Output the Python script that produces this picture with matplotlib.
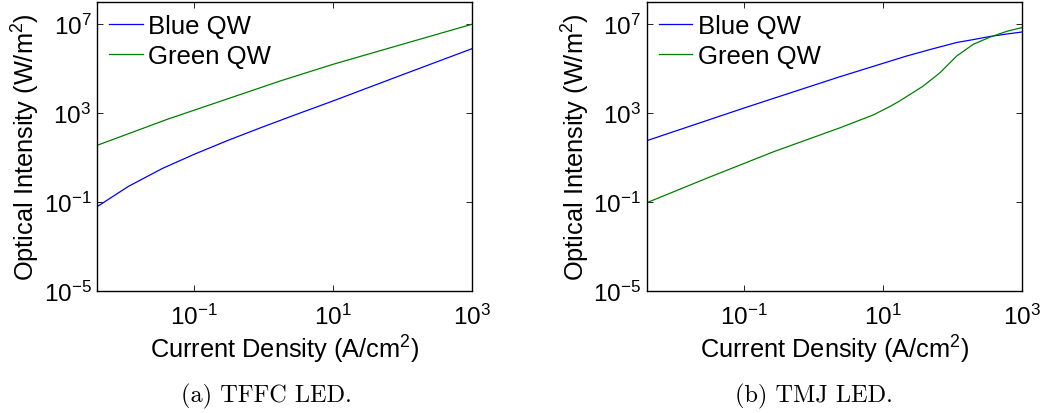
import matplotlib
matplotlib.use("Agg")
import matplotlib.pyplot as plt
from matplotlib.ticker import NullLocator, FixedLocator

# ---- data ----
# (a) TFFC LED
tffc_blue_j = [0.00398, 0.0112, 0.0347, 0.102, 0.309, 0.933, 2.82, 10, 100, 1000]
tffc_blue_i = [0.0617, 0.501, 3.24, 14.5, 60.3, 229, 832, 3550, 53700, 794000]
tffc_green_j = [0.00398, 0.0407, 0.759, 1.74, 10, 100, 1000]
tffc_green_i = [35.5, 525, 11700, 28200, 158000, 1.26e6, 1.0e7]

# (b) TMJ LED
tmj_blue_j = [0.00398, 0.1, 2.40, 21.9, 50.1, 115, 200, 347, 603, 1000]
tmj_blue_i = [57.5, 1700, 43600, 372000, 760000, 1.51e6, 2.04e6, 2.82e6, 3.63e6, 4.47e6]
tmj_green_j = [0.00398, 0.0295, 0.269, 2.45, 7.24, 12.6, 17.4, 38.0, 66.1,
               115, 200, 347, 603, 1000]
tmj_green_i = [0.0933, 1.20, 18.6, 224, 832, 2000, 3550, 16600, 66100,
               372000, 1.26e6, 2.63e6, 4.79e6, 7.08e6]

series_labels = ["Blue QW", "Green QW"]
captions = ["(a) TFFC LED.", "(b) TMJ LED."]
x_ticks = [1e-1, 1e1, 1e3]
y_ticks = [1e-5, 1e-1, 1e3, 1e7]
x_label = "Current Density (A/cm$^2$)"
y_label = "Optical Intensity (W/m$^2$)"

# ---- style ----
plt.rcParams["font.family"] = ["Liberation Sans", "DejaVu Sans"]
plt.rcParams["mathtext.default"] = "regular"
plt.rcParams["mathtext.fontset"] = "custom"
plt.rcParams["mathtext.rm"] = "Liberation Sans"
plt.rcParams["mathtext.it"] = "Liberation Sans"

W, H = 1044, 414
fig = plt.figure(figsize=(W / 100, H / 100), dpi=100)

blue = (0, 0, 1)
green = (0, 0.5, 0)

panels = [
    (97, 472, (tffc_blue_j, tffc_blue_i), (tffc_green_j, tffc_green_i), captions[0], 266),
    (646.7, 1022, (tmj_blue_j, tmj_blue_i), (tmj_green_j, tmj_green_i), captions[1], 814),
]
top_px, bot_px = 3, 292

for left, right, b, g, cap, cap_x in panels:
    ax = fig.add_axes([left / W, 1 - bot_px / H, (right - left) / W, (bot_px - top_px) / H])
    ax.plot(b[0], b[1], color=blue, lw=0.9, label=series_labels[0])
    ax.plot(g[0], g[1], color=green, lw=0.9, label=series_labels[1])
    ax.set_xscale("log")
    ax.set_yscale("log")
    ax.set_xlim(10 ** -2.4, 1e3)
    ax.set_ylim(1e-5, 1e8)
    ax.xaxis.set_major_locator(FixedLocator(x_ticks))
    ax.yaxis.set_major_locator(FixedLocator(y_ticks))
    ax.xaxis.set_minor_locator(NullLocator())
    ax.yaxis.set_minor_locator(NullLocator())
    ax.tick_params(which="major", direction="in", length=4, width=0.6,
                   top=True, right=True, labelsize=17.5, colors="black")
    ax.tick_params(axis="x", pad=9)
    ax.tick_params(axis="y", pad=4)
    for s in ax.spines.values():
        s.set_linewidth(1.0)
        s.set_color("black")
    ax.set_xlabel(x_label, fontsize=18.3, labelpad=3)
    ax.set_ylabel(y_label, fontsize=18.3, labelpad=1)
    ax.legend(loc="upper left", bbox_to_anchor=(0.033, 0.96), frameon=False,
              fontsize=18.5, handlelength=1.3, handletextpad=0.2,
              borderaxespad=0, borderpad=0, labelspacing=0.25)
    fig.text(cap_x / W, 1 - 396 / H, cap, ha="center", va="center",
             fontsize=17.5, family=["cmr10", "DejaVu Serif"])

fig.savefig("out.png", dpi=100)
